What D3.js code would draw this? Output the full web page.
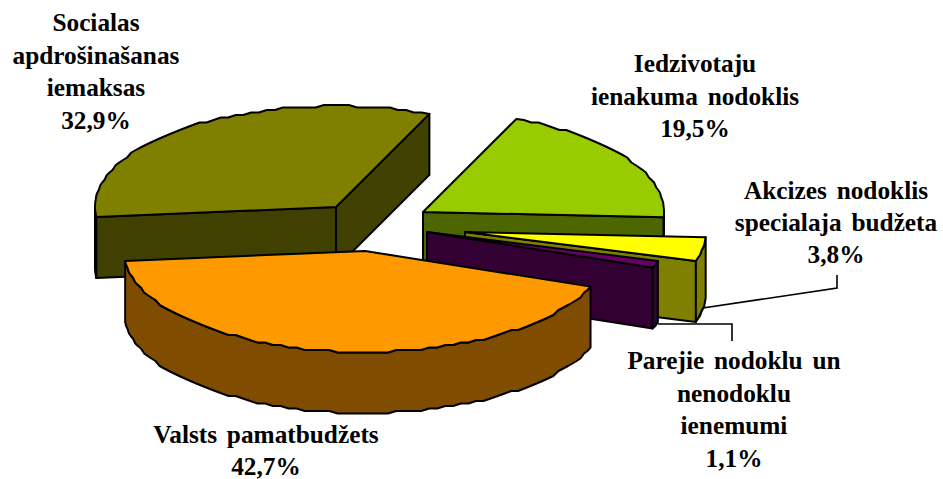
<!DOCTYPE html>
<html><head><meta charset="utf-8">
<script src="https://cdn.jsdelivr.net/npm/d3@7"></script>
<style>html,body{margin:0;padding:0;background:#fff}svg{display:block}</style></head>
<body><svg id="c" width="943" height="479"></svg>
<script>
// Data, clockwise from the first slice
const categories = ["Iedzivotaju ienakuma nodoklis","Akcizes nodoklis specialaja budžeta","Parejie nodoklu un nenodoklu ienemumi","Valsts pamatbudžets","Socialas apdrošinašanas iemaksas"];
const shares = [19.5,3.8,1.1,42.7,32.9];
const shareLabels = ["19,5%","3,8%","1,1%","42,7%","32,9%"];
const topColors = ["#99cc00","#ffff00","#660066","#ff9900","#808000"];
const wallColors = ["#4d6600","#808000","#330033","#804d00","#404000"];
const labelLines = [["Iedzivotaju","ienakuma nodoklis"],["Akcizes nodoklis","specialaja budžeta"],["Parejie nodoklu un","nenodoklu","ienemumi"],["Valsts pamatbudžets"],["Socialas","apdrošinašanas","iemaksas"]];

// Layout
const W=943,H=479, RX=241, RY=101, DEPTH=61, START=22.8;
const apex=[[423,212],[465,232],[427,232],[365,251],[336,207]];
const labelPos=[[695,72],[836,199],[734,369],[266,443],[96,31]];
const lineH=[32.5,32,32.7,32,32.7];
const drawOrder=[4,0,1,2,3];
const leaderPaths=[[[698,318],[703,308],[837,288],[837,275]],[[658,324],[732,324],[732,341]]];

const svg=d3.select("#c");
const arcs=d3.pie().sort(null).startAngle(START*Math.PI/180).endAngle(START*Math.PI/180+2*Math.PI)(shares);
const sx=d3.scaleLinear().domain([-1,1]).range([-RX,RX]);
const sy=d3.scaleLinear().domain([-1,1]).range([-RY,RY]);
const line=d3.line();
const GRID=2.5;
const snap=v=>Math.round(v/GRID)*GRID;
function pt(i,a,dz=0){return [apex[i][0]+sx(Math.sin(a)), apex[i][1]-sy(Math.cos(a))+dz];}
function rimPts(i,a0,a1,dz=0){
  const n=Math.max(2,Math.ceil((a1-a0)/(Math.PI/90)));
  return d3.range(n+1).map(k=>{
    const p=pt(i,a0+(a1-a0)*k/n,dz);
    return (k===0||k===n)?p:[p[0],snap(p[1]-dz)+dz];
  });
}
const g=svg.append("g").attr("fill","none").attr("stroke","#000").attr("stroke-width",2).attr("stroke-linejoin","round");
drawOrder.forEach(i=>{
  const {startAngle:a0,endAngle:a1}=arcs[i];
  const c=apex[i], cb=[c[0],c[1]+DEPTH];
  const wall=pts=>g.append("path").attr("d",line(pts)+"Z").attr("fill",wallColors[i]);
  // radial walls facing the viewer
  if(Math.sin(a0)<0){const p=pt(i,a0);wall([c,p,[p[0],p[1]+DEPTH],cb]);}
  if(Math.sin(a1)>0){const p=pt(i,a1);wall([c,p,[p[0],p[1]+DEPTH],cb]);}
  // outer wall, only the part between 90 and 270 degrees is seen
  const lo=Math.max(a0,Math.PI/2), hi=Math.min(a1,3*Math.PI/2);
  if(hi>lo){const up=rimPts(i,lo,hi);const dn=rimPts(i,lo,hi,DEPTH).reverse();wall(up.concat(dn));}
  // top face
  g.append("path").attr("d",line([c].concat(rimPts(i,a0,a1)))+"Z").attr("fill",topColors[i]);
});
leaderPaths.forEach(p=>svg.append("path").attr("d",line(p)).attr("fill","none").attr("stroke","#000").attr("stroke-width",1.6));
categories.forEach((cat,i)=>{
  const t=svg.append("text").attr("text-anchor","middle").attr("font-family","'Liberation Serif'").attr("font-weight","bold").attr("font-size",25.3).attr("word-spacing",3.5).attr("fill","#000");
  labelLines[i].concat([shareLabels[i]]).forEach((s,k)=>{
    t.append("tspan").attr("x",labelPos[i][0]).attr("y",labelPos[i][1]+k*lineH[i]).text(s);
  });
});
</script></body></html>
